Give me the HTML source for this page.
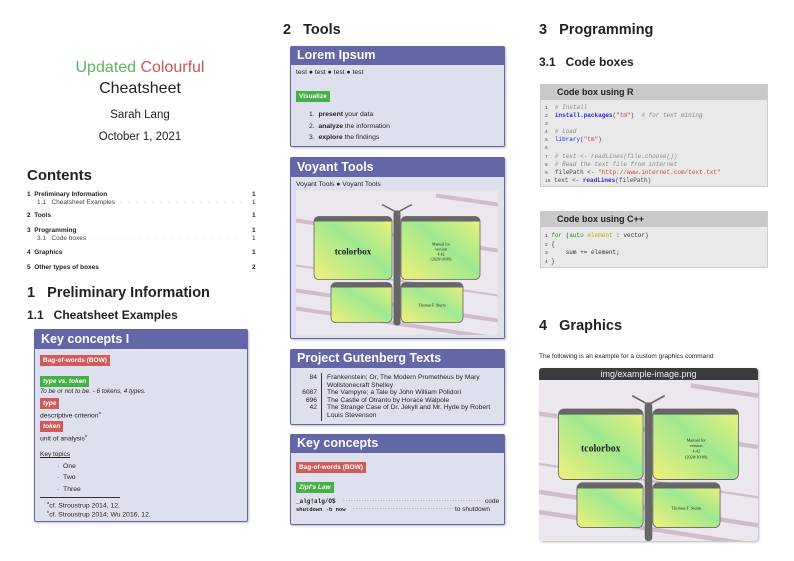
<!DOCTYPE html>
<html><head><meta charset="utf-8">
<style>
*{margin:0;padding:0;box-sizing:border-box}
body{width:794px;height:561px;background:#fff;position:relative;overflow:hidden;font-family:"Liberation Sans",sans-serif;color:#222}
.a{position:absolute;white-space:nowrap}
.box{position:absolute;background:#dfe0ee;border:1.5px solid #6367a8;border-radius:2px;box-shadow:1px 1px 2px rgba(0,0,0,.25)}
.hd{position:absolute;left:0;right:0;top:0;background:#6367a8;color:#fff;font-weight:bold;padding-left:6px}
.tag{position:absolute;color:#fff;font-size:6.5px;padding:2px 3px;font-weight:bold;white-space:nowrap}
.red{background:#d35a5a}.grn{background:#45b045}
.toc{font-size:6.5px}
.dots{position:absolute;overflow:hidden;white-space:nowrap;font-size:6.5px;color:#999;letter-spacing:2.2px}
.code{font-family:"Liberation Mono",monospace;font-size:6px;position:absolute;white-space:pre;line-height:7.1px}
.cb{position:absolute;background:#e9e9e9;border:1px solid #ccc}
.ch{position:absolute;left:0;right:0;top:0;background:#c9c9c9;font-weight:bold;font-size:9px;padding-left:16px}
</style></head><body>

<div class="a" style="left:0;width:280px;text-align:center;top:59px;font-size:16px"><span style="color:#5fb35f">Updated</span> <span style="color:#c9545e">Colourful</span></div>
<div class="a" style="left:0;width:280px;text-align:center;top:80px;font-size:16px">Cheatsheet</div>
<div class="a" style="left:0;width:280px;text-align:center;top:109px;font-size:11.5px">Sarah Lang</div>
<div class="a" style="left:0;width:280px;text-align:center;top:131px;font-size:11.5px">October 1, 2021</div>

<div class="a" style="left:27px;top:167px;font-size:15px;font-weight:bold">Contents</div>
<div class="a toc" style="left:27px;top:191px;font-weight:bold">1&nbsp;&nbsp;Preliminary Information</div><div class="a toc" style="left:252px;top:191px;font-weight:bold">1</div>
<div class="a toc" style="left:37px;top:199px;color:#444">1.1&nbsp;&nbsp;&nbsp;Cheatsheet Examples</div><div class="dots" style="left:120px;width:124px;top:198px">. . . . . . . . . . . . . . . . . . . . . . . . . . . . . .</div><div class="a toc" style="left:252px;top:199px">1</div>
<div class="a toc" style="left:27px;top:212px;font-weight:bold">2&nbsp;&nbsp;Tools</div><div class="a toc" style="left:252px;top:212px;font-weight:bold">1</div>
<div class="a toc" style="left:27px;top:227px;font-weight:bold">3&nbsp;&nbsp;Programming</div><div class="a toc" style="left:252px;top:227px;font-weight:bold">1</div>
<div class="a toc" style="left:37px;top:235px;color:#444">3.1&nbsp;&nbsp;&nbsp;Code boxes</div><div class="dots" style="left:92px;width:152px;top:234px">. . . . . . . . . . . . . . . . . . . . . . . . . . . . . . . . . . .</div><div class="a toc" style="left:252px;top:235px">1</div>
<div class="a toc" style="left:27px;top:249px;font-weight:bold">4&nbsp;&nbsp;Graphics</div><div class="a toc" style="left:252px;top:249px;font-weight:bold">1</div>
<div class="a toc" style="left:27px;top:264px;font-weight:bold">5&nbsp;&nbsp;Other types of boxes</div><div class="a toc" style="left:252px;top:264px;font-weight:bold">2</div>

<div class="a" style="left:27px;top:285px;font-size:14.5px;font-weight:bold">1&nbsp;&nbsp;&nbsp;Preliminary Information</div>
<div class="a" style="left:27px;top:308px;font-size:12px;font-weight:bold">1.1&nbsp;&nbsp;&nbsp;Cheatsheet Examples</div>

<div class="box" style="left:34px;top:329px;width:214px;height:193px">
 <div class="hd" style="height:19px;font-size:12.5px;line-height:18px">Key concepts I</div>
 <div class="tag red" style="left:5px;top:25px">Bag-of-words (BOW)</div>
 <div class="tag grn" style="left:5px;top:46px;font-style:italic">type vs. token</div>
 <div class="a" style="left:5px;top:58px;font-size:6.3px;font-style:italic">To be or not to be. - 6 tokens, 4 types.</div>
 <div class="tag red" style="left:5px;top:68px;font-style:italic">type</div>
 <div class="a" style="left:5px;top:80px;font-size:6.8px">descriptive criterion<sup style="font-size:4px">a</sup></div>
 <div class="tag red" style="left:5px;top:91px;font-style:italic">token</div>
 <div class="a" style="left:5px;top:103px;font-size:6.8px">unit of analysis<sup style="font-size:4px">b</sup></div>
 <div class="a" style="left:5px;top:121px;font-size:6.5px;text-decoration:underline">Key topics</div>
 <div class="a" style="left:22px;top:133px;font-size:6.8px">·&nbsp;&nbsp;One</div>
 <div class="a" style="left:22px;top:144px;font-size:6.8px">·&nbsp;&nbsp;Two</div>
 <div class="a" style="left:22px;top:156px;font-size:6.8px">·&nbsp;&nbsp;Three</div>
 <div class="a" style="left:5px;top:167px;width:80px;border-top:1px solid #333"></div>
 <div class="a" style="left:12px;top:170px;font-size:6.8px"><sup style="font-size:4px">a</sup>cf. Stroustrup 2014, 12.</div>
 <div class="a" style="left:12px;top:179px;font-size:6.8px"><sup style="font-size:4px">b</sup>cf. Stroustrup 2014; Wu 2016, 12.</div>
</div>

<div class="a" style="left:283px;top:22px;font-size:14.5px;font-weight:bold">2&nbsp;&nbsp;&nbsp;Tools</div>
<div class="box" style="left:290px;top:46px;width:215px;height:101px">
 <div class="hd" style="height:18px;font-size:12.5px;line-height:17px">Lorem Ipsum</div>
 <div class="a" style="left:5px;top:22px;font-size:6.8px">test ● test ● test ● test</div>
 <div class="tag grn" style="left:5px;top:44px">Visualize</div>
 <div class="a" style="left:18px;top:64px;font-size:6.8px">1.&nbsp;&nbsp;<b>present</b> your data</div>
 <div class="a" style="left:18px;top:76px;font-size:6.8px">2.&nbsp;&nbsp;<b>analyze</b> the information</div>
 <div class="a" style="left:18px;top:87px;font-size:6.8px">3.&nbsp;&nbsp;<b>explore</b> the findings</div>
</div>

<div class="box" style="left:290px;top:157px;width:215px;height:182px">
 <div class="hd" style="height:19px;font-size:12.5px;line-height:18px">Voyant Tools</div>
 <div class="a" style="left:5px;top:23px;font-size:6.8px">Voyant Tools ● Voyant Tools</div>
 <svg style="position:absolute;left:5px;top:32px" width="202" height="145" viewBox="0 0 202 144">
  <defs><linearGradient id="g1" x1="0" y1="1" x2="1" y2="0"><stop offset="0" stop-color="#f2f07a"/><stop offset=".55" stop-color="#9fe88f"/><stop offset="1" stop-color="#eef27c"/></linearGradient></defs>
  <rect width="202" height="144" fill="#ece6ef"/>
  <g stroke="#c8b3c4" stroke-width="4" opacity=".8"><line x1="0" y1="30" x2="202" y2="60"/><line x1="0" y1="100" x2="202" y2="130"/><line x1="0" y1="118" x2="202" y2="148"/><line x1="140" y1="5" x2="202" y2="14"/><line x1="0" y1="75" x2="202" y2="105" stroke-width="2"/></g>
  <line x1="101" y1="22" x2="86" y2="14" stroke="#666" stroke-width="1.5"/><line x1="101" y1="22" x2="116" y2="14" stroke="#666" stroke-width="1.5"/>
  <g stroke="#666" stroke-width=".8" fill="url(#g1)"><rect x="18" y="26" width="78" height="63" rx="5"/><rect x="105" y="26" width="79" height="63" rx="5"/><rect x="35" y="92" width="61" height="40" rx="5"/><rect x="105" y="92" width="62" height="40" rx="5"/></g>
  <g fill="#666"><path d="M23 26h68a5 5 0 0 1 5 5H18a5 5 0 0 1 5-5z"/><path d="M110 26h69a5 5 0 0 1 5 5H105a5 5 0 0 1 5-5z"/><path d="M40 92h51a5 5 0 0 1 5 5H35a5 5 0 0 1 5-5z"/><path d="M110 92h52a5 5 0 0 1 5 5H105a5 5 0 0 1 5-5z"/></g>
  <rect x="97.5" y="20" width="7" height="115" rx="3" fill="#666"/>
  <text x="57" y="64" font-family="Liberation Serif,serif" font-size="9" font-weight="bold" fill="#222" text-anchor="middle">tcolorbox</text>
  <text x="145" y="55" font-family="Liberation Serif,serif" font-size="4" fill="#222" text-anchor="middle">Manual for</text>
  <text x="145" y="60" font-family="Liberation Serif,serif" font-size="4" fill="#222" text-anchor="middle">version</text>
  <text x="145" y="65" font-family="Liberation Serif,serif" font-size="4" fill="#222" text-anchor="middle">4.42</text>
  <text x="145" y="70" font-family="Liberation Serif,serif" font-size="4" fill="#222" text-anchor="middle">(2020/10/09)</text>
  <text x="136" y="116" font-family="Liberation Serif,serif" font-size="4" fill="#222" text-anchor="middle">Thomas F. Sturm</text>
 </svg>
</div>

<div class="box" style="left:290px;top:349px;width:215px;height:76px">
 <div class="hd" style="height:18px;font-size:12.5px;line-height:17px">Project Gutenberg Texts</div>
 <div class="a" style="left:30px;top:23px;height:48px;border-left:1px solid #333"></div>
 <div class="a" style="left:0;width:26px;text-align:right;top:24px;font-size:6.7px;line-height:7.6px">84<br><br>6087<br>696<br>42</div>
 <div class="a" style="left:36px;top:24px;font-size:6.7px;line-height:7.6px">Frankenstein; Or, The Modern Prometheus by Mary<br>Wollstonecraft Shelley<br>The Vampyre; a Tale by John William Polidori<br>The Castle of Otranto by Horace Walpole<br>The Strange Case of Dr. Jekyll and Mr. Hyde by Robert<br>Louis Stevenson</div>
</div>

<div class="box" style="left:290px;top:434px;width:215px;height:91px">
 <div class="hd" style="height:18px;font-size:12.5px;line-height:17px">Key concepts</div>
 <div class="tag red" style="left:5px;top:27px">Bag-of-words (BOW)</div>
 <div class="tag grn" style="left:5px;top:47px;font-style:italic">Zipf's Law</div>
 <div class="a" style="left:5px;top:63px;font-size:6px;font-family:'Liberation Mono',monospace;font-weight:bold">_alg†alg/O$</div>
 <div class="dots" style="left:52px;width:138px;top:62px;font-size:6px;letter-spacing:1px;color:#777">.....................................................................</div>
 <div class="a" style="left:194px;top:63px;font-size:6.5px">code</div>
 <div class="a" style="left:5px;top:71px;font-size:5.5px;font-family:'Liberation Mono',monospace;font-weight:bold">shutdown -h now</div>
 <div class="dots" style="left:62px;width:100px;top:70px;font-size:6px;letter-spacing:1px;color:#777">.....................................................................</div>
 <div class="a" style="left:164px;top:71px;font-size:6.5px">to shutdown</div>
</div>

<div class="a" style="left:539px;top:22px;font-size:14.5px;font-weight:bold">3&nbsp;&nbsp;&nbsp;Programming</div>
<div class="a" style="left:539px;top:55px;font-size:12px;font-weight:bold">3.1&nbsp;&nbsp;&nbsp;Code boxes</div>

<div class="cb" style="left:540px;top:84px;width:228px;height:103px">
 <div class="ch" style="height:15px;line-height:15px">Code box using R</div>
 <div class="code" style="left:4px;top:19px;color:#444"><span style="font-size:4.5px">1</span>  <i style="color:#888"># Install</i>
<span style="font-size:4.5px">2</span>  <b style="color:#2a2ad0">install.packages</b>(<span style="color:#c44">"tm"</span>)  <i style="color:#888"># for text mining</i>
<span style="font-size:4.5px">3</span>
<span style="font-size:4.5px">4</span>  <i style="color:#888"># Load</i>
<span style="font-size:4.5px">5</span>  <span style="color:#2a2ad0">library</span>(<span style="color:#c44">"tm"</span>)
<span style="font-size:4.5px">6</span>
<span style="font-size:4.5px">7</span>  <i style="color:#888"># text &lt;- readLines(file.choose())</i>
<span style="font-size:4.5px">8</span>  <i style="color:#888"># Read the text file from internet</i>
<span style="font-size:4.5px">9</span>  filePath &lt;- <span style="color:#c44">"http://www.internet.com/text.txt"</span>
<span style="font-size:4.5px">10</span> text &lt;- <b style="color:#2a2ad0">readLines</b>(filePath)</div>
</div>

<div class="cb" style="left:540px;top:211px;width:228px;height:57px">
 <div class="ch" style="height:15px;line-height:15px">Code box using C++</div>
 <div class="code" style="left:4px;top:20px;color:#333;line-height:7.6px"><span style="font-size:4.5px">1</span> <span style="color:#2a8a2a">for</span> (<span style="color:#2a8a2a">auto</span> <span style="color:#bba800">element</span> : vector)
<span style="font-size:4.5px">2</span> {
<span style="font-size:4.5px">3</span>     sum += element;
<span style="font-size:4.5px">4</span> }</div>
</div>

<div class="a" style="left:539px;top:318px;font-size:14.5px;font-weight:bold">4&nbsp;&nbsp;&nbsp;Graphics</div>
<div class="a" style="left:539px;top:353px;font-size:6.5px">The following is an example for a custom graphics command</div>

<div style="position:absolute;left:539px;top:368px;width:219px;height:173px;border-radius:3px;overflow:hidden;box-shadow:1px 1px 2px rgba(0,0,0,.3)">
 <div style="position:absolute;left:0;right:0;top:0;height:12px;background:#3c3c3c;color:#eee;font-size:9px;text-align:center;line-height:12px">img/example-image.png</div>
 <svg style="position:absolute;left:0;top:12px" width="219" height="161" viewBox="0 0 202 144" preserveAspectRatio="none">
  <defs><linearGradient id="g2" x1="0" y1="1" x2="1" y2="0"><stop offset="0" stop-color="#f2f07a"/><stop offset=".55" stop-color="#9fe88f"/><stop offset="1" stop-color="#eef27c"/></linearGradient></defs>
  <rect width="202" height="144" fill="#ece6ef"/>
  <g stroke="#c8b3c4" stroke-width="4" opacity=".8"><line x1="0" y1="30" x2="202" y2="60"/><line x1="0" y1="100" x2="202" y2="130"/><line x1="0" y1="118" x2="202" y2="148"/><line x1="140" y1="5" x2="202" y2="14"/><line x1="0" y1="75" x2="202" y2="105" stroke-width="2"/></g>
  <line x1="101" y1="22" x2="86" y2="14" stroke="#666" stroke-width="1.5"/><line x1="101" y1="22" x2="116" y2="14" stroke="#666" stroke-width="1.5"/>
  <g stroke="#666" stroke-width=".8" fill="url(#g2)"><rect x="18" y="26" width="78" height="63" rx="5"/><rect x="105" y="26" width="79" height="63" rx="5"/><rect x="35" y="92" width="61" height="40" rx="5"/><rect x="105" y="92" width="62" height="40" rx="5"/></g>
  <g fill="#666"><path d="M23 26h68a5 5 0 0 1 5 5H18a5 5 0 0 1 5-5z"/><path d="M110 26h69a5 5 0 0 1 5 5H105a5 5 0 0 1 5-5z"/><path d="M40 92h51a5 5 0 0 1 5 5H35a5 5 0 0 1 5-5z"/><path d="M110 92h52a5 5 0 0 1 5 5H105a5 5 0 0 1 5-5z"/></g>
  <rect x="97.5" y="20" width="7" height="124" rx="3" fill="#666"/>
  <text x="57" y="64" font-family="Liberation Serif,serif" font-size="9" font-weight="bold" fill="#222" text-anchor="middle">tcolorbox</text>
  <text x="145" y="55" font-family="Liberation Serif,serif" font-size="4" fill="#222" text-anchor="middle">Manual for</text>
  <text x="145" y="60" font-family="Liberation Serif,serif" font-size="4" fill="#222" text-anchor="middle">version</text>
  <text x="145" y="65" font-family="Liberation Serif,serif" font-size="4" fill="#222" text-anchor="middle">4.42</text>
  <text x="145" y="70" font-family="Liberation Serif,serif" font-size="4" fill="#222" text-anchor="middle">(2020/10/09)</text>
  <text x="136" y="116" font-family="Liberation Serif,serif" font-size="4" fill="#222" text-anchor="middle">Thomas F. Sturm</text>
 </svg>
</div>

</body></html>
